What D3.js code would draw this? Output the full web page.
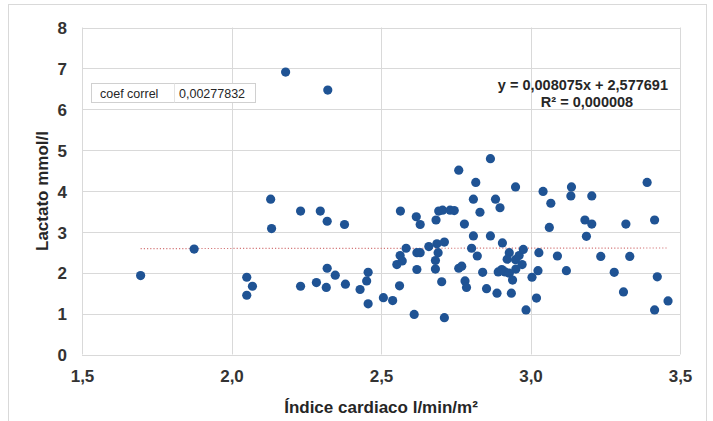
<!doctype html>
<html lang="es">
<head>
<meta charset="utf-8">
<script src="https://d3js.org/d3.v7.min.js"></script>
<title>Lactato vs Índice cardiaco</title>
<style>
  body { margin: 0; background: #fff; }
  text { font-family: "Liberation Sans Narrow", "Arial Narrow", "Liberation Sans", sans-serif; fill: #262626; }
  .tick text { font-size: 17px; font-weight: bold; fill: #333; }
  .grid line { stroke: #d9d9d9; stroke-width: 1; }
  .dot { fill: #1f5394; }
</style>
</head>
<body>
<svg width="713" height="421"></svg>
<script>
// Índice cardiaco (l/min/m²)
const cardiacIndex = [
  1.696, 1.875, 2.051, 2.070, 2.051, 2.131, 2.134, 2.181, 2.322, 2.231,
  2.297, 2.320, 2.378, 2.231, 2.284, 2.317, 2.320, 2.347, 2.381, 2.430,
  2.452, 2.457, 2.457, 2.508, 2.539, 2.565, 2.562, 2.553, 2.564, 2.584,
  2.571, 2.618, 2.631, 2.684, 2.693, 2.706, 2.731, 2.745, 2.779, 2.809,
  2.809, 2.831, 2.620, 2.631, 2.660, 2.687, 2.712, 2.691, 2.682, 2.682,
  2.620, 2.703, 2.760, 2.770, 2.781, 2.786, 2.803, 2.822, 2.611, 2.712,
  2.866, 2.760, 2.817, 2.950, 3.042, 3.068, 3.137, 3.135, 3.205, 3.390,
  2.883, 2.898, 3.063, 2.866, 2.906, 2.929, 2.962, 2.976, 2.922, 2.950,
  2.972, 2.951, 3.028, 3.090, 2.840, 2.892, 2.904, 2.915, 2.929, 2.940,
  3.025, 3.005, 3.120, 2.853, 2.888, 2.936, 3.020, 2.985, 3.182, 3.205,
  3.187, 3.319, 3.415, 3.235, 3.332, 3.280, 3.424, 3.311, 3.415, 3.460
];
// Lactato (mmol/l)
const lactate = [
  1.93, 2.58, 1.89, 1.67, 1.45, 3.80, 3.08, 6.91, 6.47, 3.51,
  3.51, 3.26, 3.18, 1.67, 1.76, 1.64, 2.11, 1.94, 1.72, 1.59,
  1.80, 2.01, 1.24, 1.39, 1.32, 3.51, 1.68, 2.20, 2.42, 2.60,
  2.29, 3.37, 3.18, 3.29, 3.51, 3.53, 3.53, 3.52, 3.19, 3.80,
  2.90, 3.48, 2.49, 2.49, 2.64, 2.71, 2.75, 2.49, 2.30, 2.09,
  2.08, 1.78, 2.11, 2.16, 1.80, 1.64, 2.60, 2.41, 0.98, 0.90,
  4.79, 4.51, 4.21, 4.10, 3.99, 3.70, 4.10, 3.88, 3.88, 4.21,
  3.80, 3.59, 3.11, 2.90, 2.73, 2.49, 2.42, 2.57, 2.33, 2.32,
  2.20, 2.09, 2.49, 2.41, 2.01, 2.02, 2.08, 2.02, 1.99, 1.82,
  2.05, 1.89, 2.05, 1.61, 1.50, 1.50, 1.38, 1.09, 3.29, 3.19,
  2.89, 3.19, 3.29, 2.40, 2.40, 2.01, 1.90, 1.53, 1.09, 1.31
];
const xTicks = [1.5, 2.0, 2.5, 3.0, 3.5];
const yTicks = [0, 1, 2, 3, 4, 5, 6, 7, 8];
const trendSlope = 0.008075;
const trendIntercept = 2.577691;
const equationText = "y = 0,008075x + 2,577691";
const r2Text = "R² = 0,000008";
const correlLabel = "coef correl";
const correlValue = "0,00277832";

const svg = d3.select("svg");
const fmt = d => d3.format(".1f")(d).replace(".", ",");

// outer chart frame
svg.append("rect")
  .attr("x", 8.5).attr("y", 4.5)
  .attr("width", 698).attr("height", 430)
  .attr("fill", "#fff").attr("stroke", "#d9d9d9");

const x = d3.scaleLinear().domain([1.5, 3.5]).range([82, 680]);
const y = d3.scaleLinear().domain([0, 8]).range([354.5, 27.5]);

// gridlines
const grid = svg.append("g").attr("class", "grid");
grid.selectAll(".v").data(xTicks).enter().append("line")
  .attr("x1", d => Math.round(x(d)) + 0.5).attr("x2", d => Math.round(x(d)) + 0.5)
  .attr("y1", y(8)).attr("y2", y(0));
grid.selectAll(".h").data(yTicks).enter().append("line")
  .attr("x1", x(1.5)).attr("x2", x(3.5))
  .attr("y1", d => Math.round(y(d)) + 0.5).attr("y2", d => Math.round(y(d)) + 0.5);

// axes (labels only)
const xAxis = svg.append("g")
  .attr("transform", `translate(0,${y(0)})`)
  .call(d3.axisBottom(x).tickValues(xTicks).tickFormat(fmt).tickSize(0).tickPadding(15));
xAxis.select(".domain").remove();

const yAxis = svg.append("g")
  .attr("transform", `translate(${x(1.5)},0)`)
  .call(d3.axisLeft(y).tickValues(yTicks).tickFormat(d3.format("d")).tickSize(0).tickPadding(15));
yAxis.select(".domain").remove();
yAxis.selectAll("text").attr("dy", "0.36em");

// axis titles
svg.append("text")
  .attr("x", 381).attr("y", 413)
  .attr("text-anchor", "middle")
  .style("font-size", "17px").style("font-weight", "bold")
  .text("Índice cardiaco l/min/m²");

svg.append("text")
  .attr("transform", `translate(48,${y(4)}) rotate(-90)`)
  .attr("text-anchor", "middle")
  .style("font-size", "17px").style("font-weight", "bold")
  .text("Lactato mmol/l");

// trend line
const xmin = d3.min(cardiacIndex), xmax = d3.max(cardiacIndex);
svg.append("line")
  .attr("x1", x(xmin)).attr("x2", x(xmax))
  .attr("y1", y(trendSlope * xmin + trendIntercept))
  .attr("y2", y(trendSlope * xmax + trendIntercept))
  .attr("stroke", "#d4787a").attr("stroke-width", 1.2)
  .attr("stroke-dasharray", "1.2,2");

// points
svg.append("g").selectAll("circle")
  .data(cardiacIndex.map((d, i) => [d, lactate[i]]))
  .enter().append("circle")
  .attr("class", "dot")
  .attr("cx", d => x(d[0])).attr("cy", d => y(d[1]))
  .attr("r", 4.6);

// equation labels
svg.append("text")
  .attr("x", 668).attr("y", 90)
  .attr("text-anchor", "end")
  .style("font-size", "14.5px").style("font-weight", "bold")
  .text(equationText);
svg.append("text")
  .attr("x", 587).attr("y", 107)
  .attr("text-anchor", "middle")
  .style("font-size", "14.5px").style("font-weight", "bold")
  .text(r2Text);

// correlation box
const box = svg.append("g");
box.append("rect")
  .attr("x", 91.5).attr("y", 83.5).attr("width", 164).attr("height", 19)
  .attr("fill", "#fff").attr("stroke", "#d0d0d0");
box.append("line")
  .attr("x1", 174.5).attr("x2", 174.5).attr("y1", 83.5).attr("y2", 102.5)
  .attr("stroke", "#e4e4e4");
box.append("text")
  .attr("x", 100).attr("y", 98)
  .style("font-family", "'Liberation Sans', Arial, sans-serif")
  .style("font-size", "12.5px")
  .text(correlLabel);
box.append("text")
  .attr("x", 179).attr("y", 98)
  .style("font-family", "'Liberation Sans', Arial, sans-serif")
  .style("font-size", "12.5px")
  .text(correlValue);
</script>
</body>
</html>
